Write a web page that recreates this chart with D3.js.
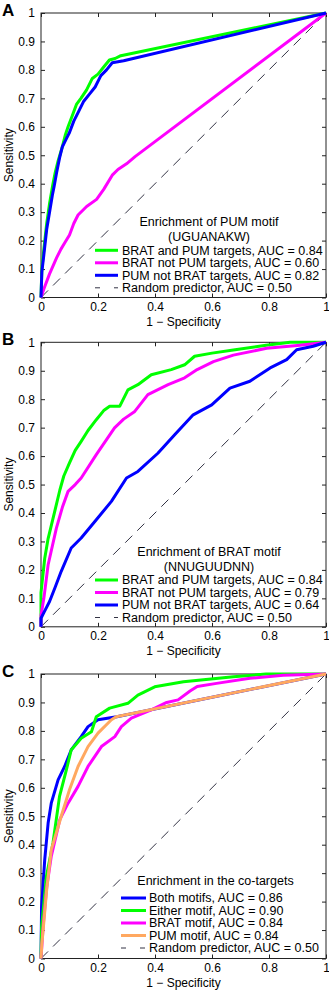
<!DOCTYPE html>
<html>
<head>
<meta charset="utf-8">
<script src="https://cdn.jsdelivr.net/npm/d3@7"></script>
<style>
  body { margin: 0; background: #fff; }
  svg { display: block; font-family: "Liberation Sans", Arial, sans-serif; }
</style>
</head>
<body>
<div id="chart"></div>
<script>
// ROC points: [1 - specificity, sensitivity]
const xTicks = [0, 0.2, 0.4, 0.6, 0.8, 1];
const yTicks = [0, 0.1, 0.2, 0.3, 0.4, 0.5, 0.6, 0.7, 0.8, 0.9, 1];

// panel A - PUM motif
const aBratAndPum = [[0,0],[0.003,0.1],[0.01,0.17],[0.02,0.26],[0.03,0.33],[0.042,0.40],[0.05,0.44],[0.06,0.48],[0.075,0.53],[0.085,0.57],[0.095,0.60],[0.11,0.64],[0.125,0.68],[0.14,0.70],[0.16,0.73],[0.18,0.77],[0.2,0.785],[0.22,0.81],[0.24,0.835],[0.26,0.84],[0.28,0.85],[1,1]];
const aBratNotPum = [[0,0],[0.01,0.03],[0.03,0.083],[0.055,0.14],[0.07,0.17],[0.085,0.195],[0.1,0.22],[0.115,0.26],[0.13,0.29],[0.16,0.32],[0.195,0.345],[0.22,0.38],[0.25,0.43],[0.27,0.45],[0.3,0.47],[0.33,0.495],[1,1]];
const aPumNotBrat = [[0,0],[0.003,0.09],[0.01,0.15],[0.02,0.24],[0.03,0.30],[0.04,0.36],[0.046,0.39],[0.055,0.44],[0.065,0.49],[0.075,0.53],[0.09,0.56],[0.1,0.58],[0.115,0.62],[0.13,0.65],[0.15,0.69],[0.17,0.715],[0.19,0.74],[0.21,0.78],[0.23,0.80],[0.25,0.825],[0.29,0.832],[1,1]];

// panel B - BRAT motif
const bBratAndPum = [[0,0],[0,0.12],[0.013,0.24],[0.025,0.31],[0.042,0.38],[0.066,0.48],[0.08,0.53],[0.1,0.576],[0.12,0.62],[0.141,0.652],[0.165,0.69],[0.194,0.728],[0.22,0.76],[0.241,0.775],[0.276,0.775],[0.305,0.833],[0.34,0.851],[0.387,0.886],[0.457,0.904],[0.504,0.921],[0.539,0.951],[0.6,0.962],[0.675,0.973],[0.79,0.99],[0.874,1],[1,1]];
const bBratNotPum = [[0,0],[0,0.04],[0.01,0.1],[0.025,0.218],[0.054,0.347],[0.075,0.42],[0.095,0.476],[0.12,0.5],[0.141,0.523],[0.194,0.605],[0.258,0.699],[0.29,0.73],[0.329,0.757],[0.375,0.816],[0.446,0.851],[0.504,0.875],[0.548,0.904],[0.605,0.932],[0.675,0.955],[0.792,0.979],[0.909,0.99],[1,1]];
const bPumNotBrat = [[0,0],[0,0.03],[0.01,0.05],[0.03,0.089],[0.05,0.14],[0.071,0.195],[0.106,0.277],[0.141,0.312],[0.194,0.376],[0.247,0.441],[0.3,0.523],[0.34,0.546],[0.41,0.61],[0.469,0.675],[0.534,0.745],[0.599,0.78],[0.663,0.839],[0.733,0.863],[0.804,0.91],[0.862,0.939],[0.897,0.974],[0.955,0.986],[1,1]];

// panel C - co-targets
const cBoth = [[0,0],[0.002,0.18],[0.013,0.347],[0.025,0.476],[0.036,0.546],[0.06,0.628],[0.083,0.675],[0.106,0.733],[0.141,0.78],[0.165,0.815],[0.2,0.839],[0.266,0.85],[1,1]];
const cEither = [[0,0],[0.002,0.11],[0.019,0.289],[0.042,0.406],[0.065,0.57],[0.089,0.663],[0.106,0.733],[0.141,0.774],[0.177,0.797],[0.194,0.85],[0.241,0.88],[0.305,0.897],[0.34,0.926],[0.399,0.955],[0.5,0.973],[0.675,0.99],[0.79,1],[1,1]];
const cBrat = [[0,0],[0.008,0.12],[0.02,0.25],[0.036,0.359],[0.066,0.488],[0.095,0.546],[0.13,0.605],[0.165,0.675],[0.212,0.745],[0.259,0.78],[0.282,0.815],[0.317,0.845],[0.387,0.874],[0.441,0.9],[0.481,0.909],[0.523,0.94],[0.548,0.956],[0.616,0.967],[0.733,0.985],[0.85,0.996],[1,1]];
const cPum = [[0,0],[0.003,0.05],[0.02,0.242],[0.036,0.382],[0.071,0.5],[0.1,0.593],[0.13,0.675],[0.165,0.745],[0.2,0.792],[0.247,0.839],[0.264,0.85],[1,1]];

const randomLine = [[0,0],[1,1]];

const green = '#00ff00', magenta = '#ff00ff', blue = '#0000ff', orange = '#ffa860';

const panels = [
  {
    letter: 'A', top: 13,
    title: ['Enrichment of PUM motif', '(UGUANAKW)'],
    titleX: 209, lineX: [95, 118], textX: 122, titleY: 208.5, entryY: 237.3,
    series: [
      { name: 'BRAT and PUM targets, AUC = 0.84', data: aBratAndPum, color: green },
      { name: 'BRAT not PUM targets, AUC = 0.60', data: aBratNotPum, color: magenta },
      { name: 'PUM not BRAT targets, AUC = 0.82', data: aPumNotBrat, color: blue }
    ]
  },
  {
    letter: 'B', top: 342.3,
    title: ['Enrichment of BRAT motif', '(NNUGUUDNN)'],
    titleX: 209, lineX: [95, 118], textX: 122, titleY: 209.4, entryY: 237.7,
    series: [
      { name: 'BRAT and PUM targets, AUC = 0.84', data: bBratAndPum, color: green },
      { name: 'BRAT not PUM targets, AUC = 0.79', data: bBratNotPum, color: magenta },
      { name: 'PUM not BRAT targets, AUC = 0.64', data: bPumNotBrat, color: blue }
    ]
  },
  {
    letter: 'C', top: 674,
    title: ['Enrichment in the co-targets'],
    titleX: 215.5, lineX: [121, 146], textX: 149, titleY: 206.7, entryY: 224,
    series: [
      { name: 'Both motifs, AUC = 0.86', data: cBoth, color: blue },
      { name: 'Either motif, AUC = 0.90', data: cEither, color: green },
      { name: 'BRAT motif, AUC = 0.84', data: cBrat, color: magenta },
      { name: 'PUM motif, AUC = 0.84', data: cPum, color: orange }
    ]
  }
];

const width = 329;
const height = 992;
const left = 41;
const plotW = 285;
const plotH = 284.5;
const axisColor = '#222';

const svg = d3.select('#chart')
  .append('svg')
  .attr('width', width)
  .attr('height', height);

const x = d3.scaleLinear().domain([0, 1]).range([0, plotW]);
const y = d3.scaleLinear().domain([0, 1]).range([plotH, 0]);

const line = d3.line()
  .x(d => x(d[0]))
  .y(d => y(d[1]));

panels.forEach(p => {
  const g = svg.append('g')
    .attr('transform', `translate(${left}, ${p.top})`);

  // panel letter
  svg.append('text')
    .attr('x', 2)
    .attr('y', p.top + 2.5)
    .style('font-size', '17px')
    .style('font-weight', 'bold')
    .text(p.letter);

  // axes with inward ticks on all four sides
  const bottom = g.append('g')
    .attr('transform', `translate(0, ${plotH})`)
    .call(d3.axisBottom(x).tickValues(xTicks).tickSizeInner(-4).tickSizeOuter(0)
      .tickPadding(5).tickFormat(d3.format('')));
  const leftAx = g.append('g')
    .call(d3.axisLeft(y).tickValues(yTicks).tickSizeInner(-4).tickSizeOuter(0)
      .tickPadding(6).tickFormat(d3.format('')));
  const topAx = g.append('g')
    .call(d3.axisTop(x).tickValues(xTicks).tickSizeInner(-4).tickSizeOuter(0).tickFormat(''));
  const rightAx = g.append('g')
    .attr('transform', `translate(${plotW}, 0)`)
    .call(d3.axisRight(y).tickValues(yTicks).tickSizeInner(-4).tickSizeOuter(0).tickFormat(''));

  [bottom, leftAx, topAx, rightAx].forEach(a => {
    a.select('.domain').remove();
    a.selectAll('line').attr('stroke', axisColor);
    a.selectAll('text')
      .attr('fill', '#000')
      .style('font-size', '12px')
      .style('font-family', '"Liberation Sans", Arial, sans-serif');
  });

  g.append('rect')
    .attr('width', plotW)
    .attr('height', plotH)
    .attr('fill', 'none')
    .attr('stroke', axisColor)
    .attr('stroke-width', 1);

  // axis titles
  g.append('text')
    .attr('x', plotW / 2)
    .attr('y', plotH + 28)
    .attr('text-anchor', 'middle')
    .style('font-size', '12px')
    .text('1 \u2212 Specificity');

  g.append('text')
    .attr('transform', `translate(${12.5 - left}, ${plotH / 2}) rotate(-90)`)
    .attr('text-anchor', 'middle')
    .style('font-size', '12px')
    .text('Sensitivity');

  // random predictor diagonal
  g.append('path')
    .datum(randomLine)
    .attr('d', line)
    .attr('fill', 'none')
    .attr('stroke', '#333344')
    .attr('stroke-width', 1)
    .attr('stroke-dasharray', '10,7');

  // ROC curves
  g.selectAll('.roc')
    .data(p.series)
    .enter()
    .append('path')
    .attr('class', 'roc')
    .attr('d', d => line(d.data))
    .attr('fill', 'none')
    .attr('stroke', d => d.color)
    .attr('stroke-width', 3)
    .attr('stroke-linejoin', 'round');

  // legend (no box)
  const leg = svg.append('g')
    .attr('transform', `translate(0, ${p.top})`);

  p.title.forEach((t, i) => {
    leg.append('text')
      .attr('x', p.titleX)
      .attr('y', p.titleY + i * 15.2)
      .attr('dy', '0.35em')
      .attr('text-anchor', 'middle')
      .style('font-size', '12.5px')
      .text(t);
  });

  const entries = p.series.concat([{ name: 'Random predictor, AUC = 0.50', dashed: true }]);
  entries.forEach((e, i) => {
    const yy = p.entryY + i * 12.5;
    leg.append('line')
      .attr('x1', p.lineX[0])
      .attr('x2', p.lineX[1])
      .attr('y1', yy)
      .attr('y2', yy)
      .attr('stroke', e.dashed ? '#333344' : e.color)
      .attr('stroke-width', e.dashed ? 1 : 3)
      .attr('stroke-dasharray', e.dashed ? '5,14' : null);
    leg.append('text')
      .attr('x', p.textX)
      .attr('y', yy)
      .attr('dy', '0.35em')
      .style('font-size', '12.5px')
      .text(e.name);
  });
});
</script>
</body>
</html>
